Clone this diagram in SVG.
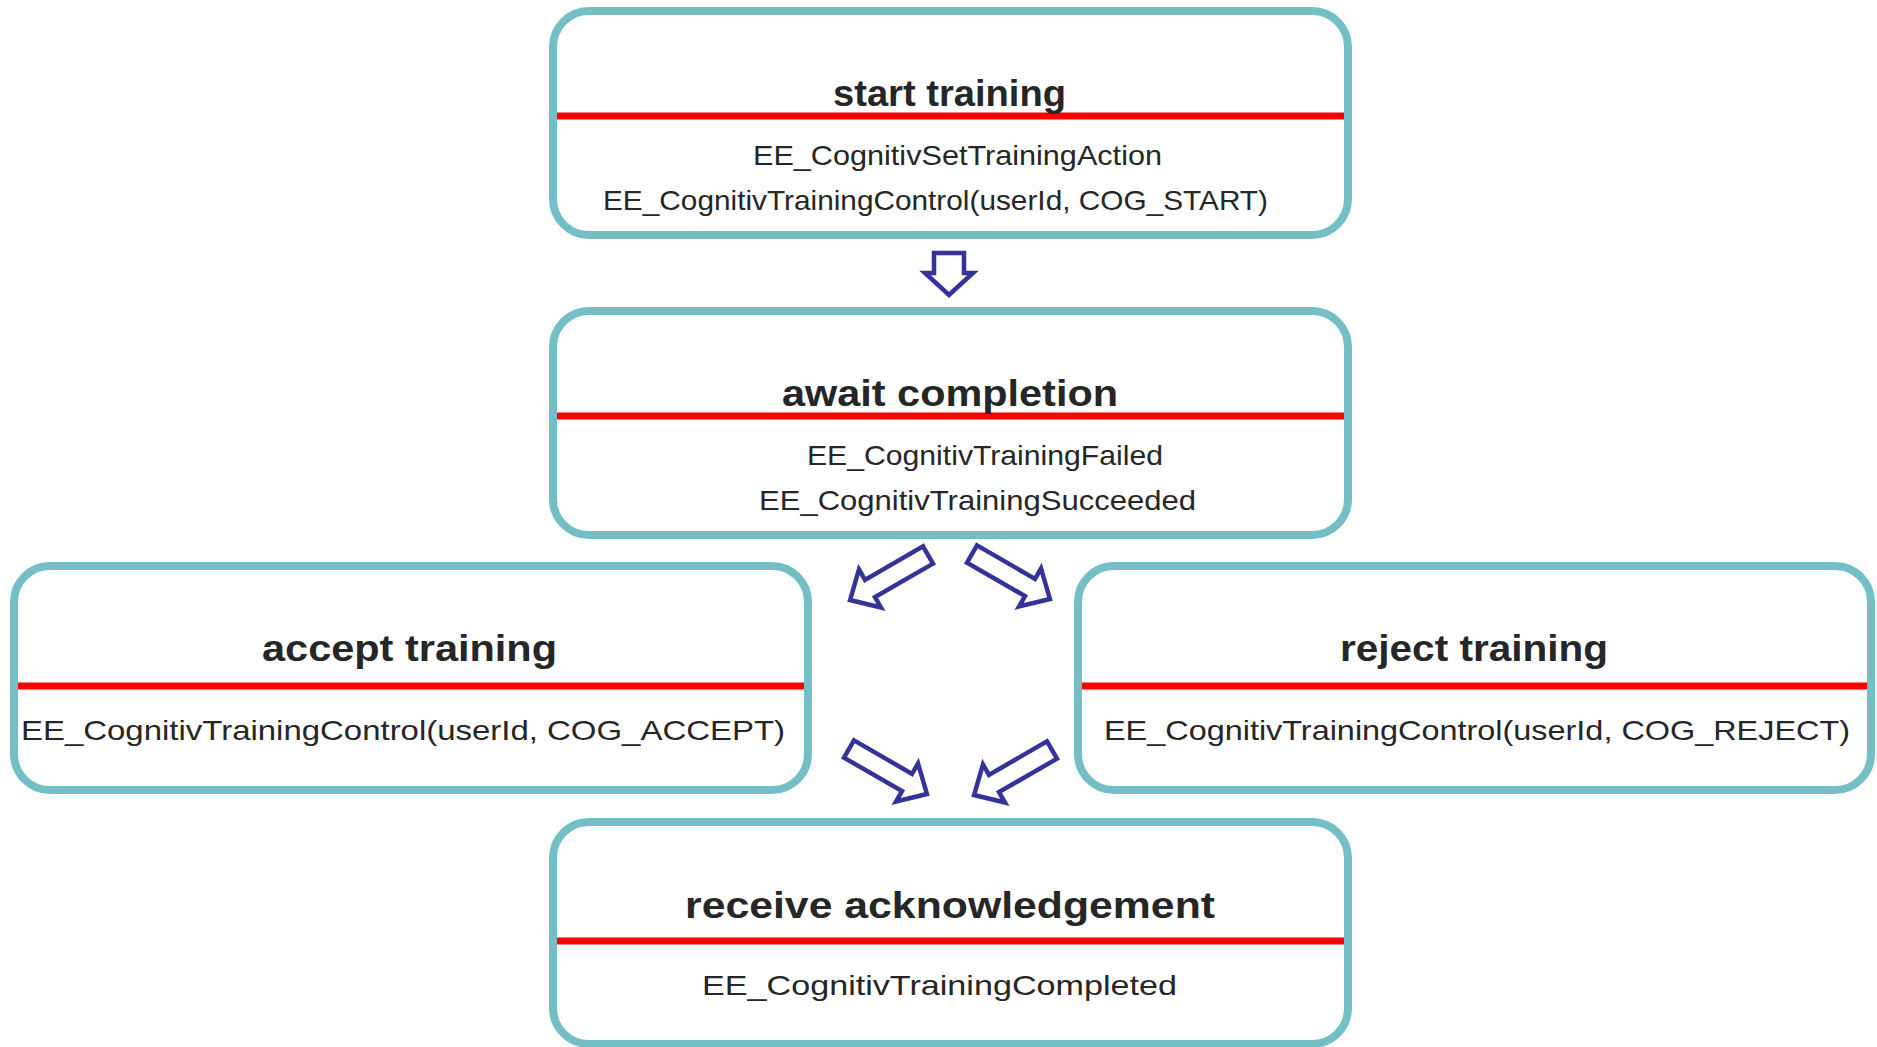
<svg xmlns="http://www.w3.org/2000/svg" width="1877" height="1047" viewBox="0 0 1877 1047">
<defs>
<style>
.box{fill:#fff;stroke:#73bfc5;stroke-width:8}
.sep{stroke:#ff0000;stroke-width:7}
.title{font-family:"Liberation Sans",Arial,sans-serif;font-weight:bold;font-size:37px;fill:#262626}
.body{font-family:"Liberation Sans",Arial,sans-serif;font-size:28px;fill:#262626}
.arr{fill:#fff;stroke:#333399;stroke-width:4.5;stroke-linejoin:miter}
</style>
<path id="diag" d="M0,-10 L67,-10 L67,-22 L90,0 L67,22 L67,10 L0,10 Z"/>
</defs>
<rect width="1877" height="1047" fill="#fff"/>

<g id="start-training">
<rect class="box" x="553" y="11" width="795" height="224" rx="36"/>
<line class="sep" x1="557" y1="116" x2="1344" y2="116"/>
<text class="title" x="833" y="106" textLength="233" lengthAdjust="spacingAndGlyphs">start training</text>
<text class="body" x="753" y="165" textLength="409" lengthAdjust="spacingAndGlyphs">EE_CognitivSetTrainingAction</text>
<text class="body" x="603" y="210" textLength="665" lengthAdjust="spacingAndGlyphs">EE_CognitivTrainingControl(userId, COG_START)</text>
</g>

<g id="await-completion">
<rect class="box" x="553" y="311" width="795" height="224" rx="36"/>
<line class="sep" x1="557" y1="416" x2="1344" y2="416"/>
<text class="title" x="782" y="406" textLength="336" lengthAdjust="spacingAndGlyphs">await completion</text>
<text class="body" x="807" y="465" textLength="356" lengthAdjust="spacingAndGlyphs">EE_CognitivTrainingFailed</text>
<text class="body" x="759" y="510" textLength="437" lengthAdjust="spacingAndGlyphs">EE_CognitivTrainingSucceeded</text>
</g>

<g id="accept-training">
<rect class="box" x="14" y="566" width="794" height="224" rx="36"/>
<line class="sep" x1="18" y1="686" x2="804" y2="686"/>
<text class="title" x="262" y="661" textLength="295" lengthAdjust="spacingAndGlyphs">accept training</text>
<text class="body" x="21" y="740" textLength="764" lengthAdjust="spacingAndGlyphs">EE_CognitivTrainingControl(userId, COG_ACCEPT)</text>
</g>

<g id="reject-training">
<rect class="box" x="1078" y="566" width="793" height="224" rx="36"/>
<line class="sep" x1="1082" y1="686" x2="1867" y2="686"/>
<text class="title" x="1340" y="661" textLength="268" lengthAdjust="spacingAndGlyphs">reject training</text>
<text class="body" x="1104" y="740" textLength="746" lengthAdjust="spacingAndGlyphs">EE_CognitivTrainingControl(userId, COG_REJECT)</text>
</g>

<g id="receive-acknowledgement">
<rect class="box" x="553" y="822" width="795" height="222" rx="36"/>
<line class="sep" x1="557" y1="941" x2="1344" y2="941"/>
<text class="title" x="685" y="918" textLength="530" lengthAdjust="spacingAndGlyphs">receive acknowledgement</text>
<text class="body" x="702" y="995" textLength="475" lengthAdjust="spacingAndGlyphs">EE_CognitivTrainingCompleted</text>
</g>

<g id="connectors">
<path class="arr" d="M934,253 H964 V273 H973 L949,295 L925,273 H934 Z"/>
<use class="arr" href="#diag" transform="translate(928,555) rotate(150)"/>
<use class="arr" href="#diag" transform="translate(972,554) rotate(30)"/>
<use class="arr" href="#diag" transform="translate(849,749) rotate(30)"/>
<use class="arr" href="#diag" transform="translate(1052,750) rotate(150)"/>
</g>
</svg>
